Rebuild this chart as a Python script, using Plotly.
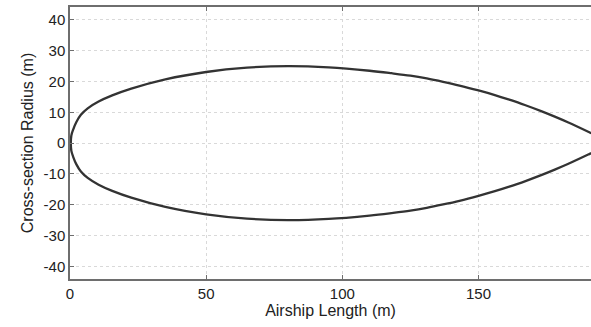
import plotly.graph_objects as go

# Airship profile: axial position (m) and cross-section radius (m)
length_m = [0.3, 0.5, 1.2, 2.3, 4.0, 6.5, 10.5, 15.5, 22.5, 35, 50, 65, 80, 95, 110, 118,
            125, 131, 137, 143, 150, 156, 161, 167, 173, 178, 183, 191, 199]
radius_m = [0, 2.5, 4.5, 6.8, 9.2, 11.3, 13.5, 15.5, 17.7, 20.7, 23.1, 24.5, 25.0, 24.6, 23.5, 22.7,
            21.9, 21.0, 19.9, 18.7, 17.1, 15.6, 14.2, 12.4, 10.4, 8.6, 6.7, 3.4, 0]

x_ticks = [0, 50, 100, 150]
y_ticks = [-40, -30, -20, -10, 0, 10, 20, 30, 40]
y_tick_text = ["-40", "-30", "-20", "-10", "0", "10", "20", "30", "40"]

# closed outline: upper contour then lower contour back to the nose
xs = length_m + length_m[::-1]
ys = radius_m + [-r for r in radius_m[::-1]]

fig = go.Figure(go.Scatter(
    x=xs, y=ys, mode="lines",
    line=dict(color="#333333", width=2.3, shape="spline", smoothing=1.0),
    hoverinfo="skip", showlegend=False,
))

font_family = "Liberation Sans, Arial, sans-serif"
axis_common = dict(
    showline=True, linecolor="#6e6e6e", linewidth=1.5,
    ticks="inside", ticklen=4, tickcolor="#6e6e6e", tickwidth=1,
    showgrid=True, gridcolor="#d9d9d9", griddash="dot", gridwidth=1,
    zeroline=False,
    tickfont=dict(family=font_family, size=15, color="#222222"),
)

fig.update_layout(
    width=591, height=327,
    margin=dict(l=70, r=0, t=7, b=48),
    paper_bgcolor="white", plot_bgcolor="white",
    xaxis=dict(
        range=[0, 191.3], tickvals=x_ticks, mirror="ticks",
        title=dict(text="Airship Length (m)", font=dict(family=font_family, size=16, color="#222222"), standoff=4),
        **axis_common,
    ),
    yaxis=dict(
        range=[-44.1, 44.2], tickvals=y_ticks, ticktext=y_tick_text, mirror=False,
        title=dict(text="Cross-section Radius (m)", font=dict(family=font_family, size=16, color="#222222"), standoff=6),
        **axis_common,
    ),
)

fig.write_html("out.html")
